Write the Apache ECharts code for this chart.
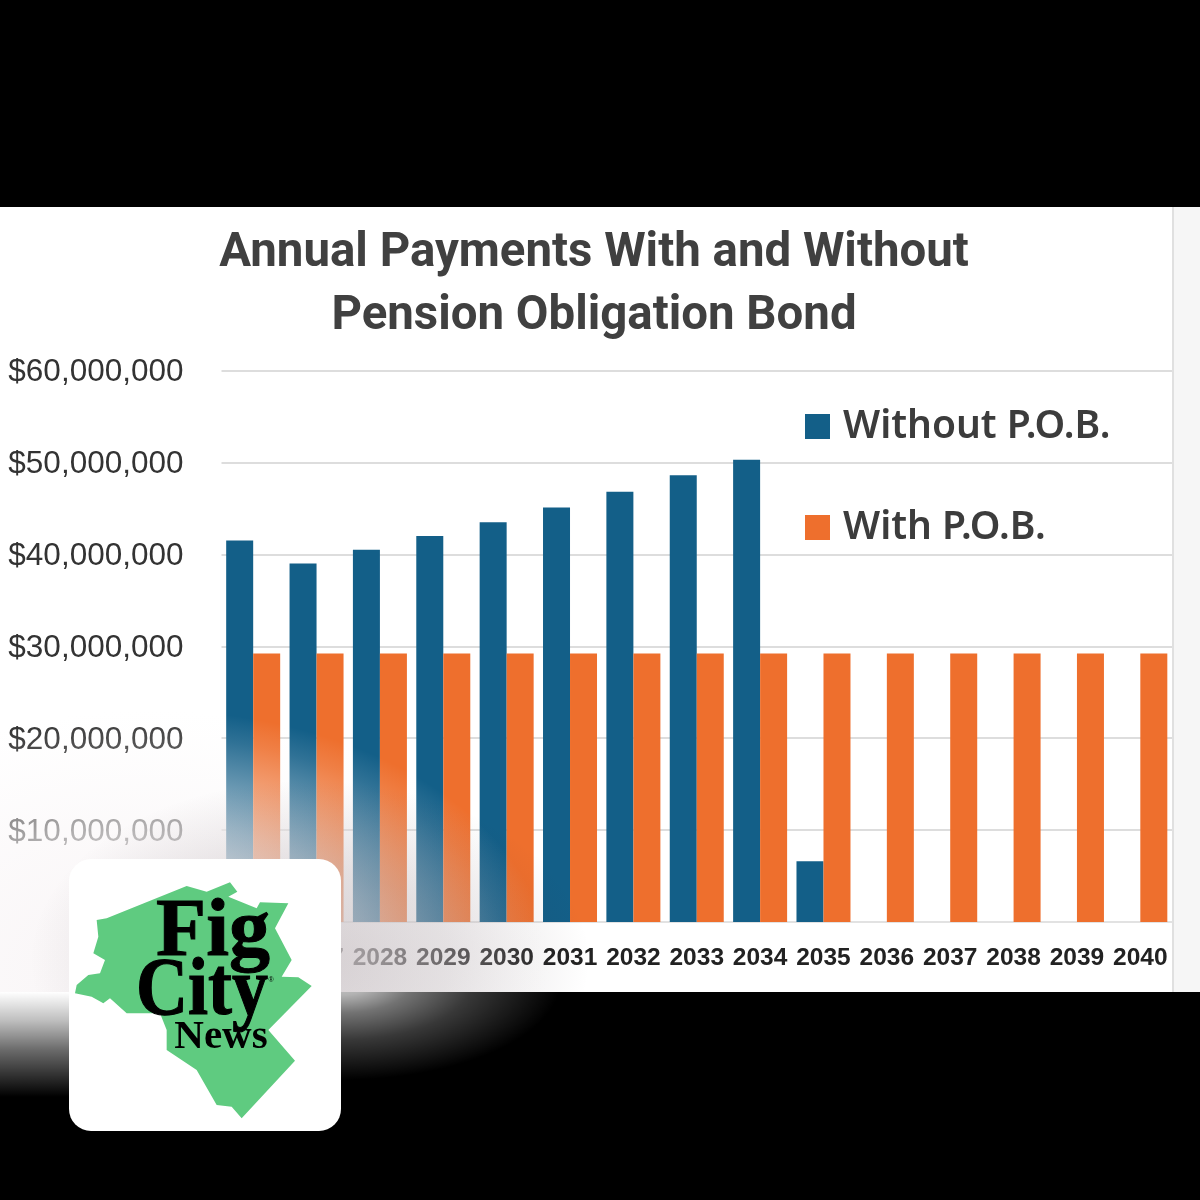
<!DOCTYPE html>
<html>
<head>
<meta charset="utf-8">
<style>html,body{margin:0;padding:0;background:#000}#c{width:1200px;height:1200px}</style>
<script src="https://cdn.jsdelivr.net/npm/echarts@6/dist/echarts.min.js"></script>
</head>
<body>
<div id="c"></div>
<script>
const titleText = 'Annual Payments With and Without\nPension Obligation Bond';
const years = ['2026','2027','2028','2029','2030','2031','2032','2033','2034','2035','2036','2037','2038','2039','2040'];
const withoutPOB = [41500000,39000000,40500000,42000000,43500000,45100000,46800000,48600000,50300000,6600000,null,null,null,null,null];
const withPOB = [29200000,29200000,29200000,29200000,29200000,29200000,29200000,29200000,29200000,29200000,29200000,29200000,29200000,29200000,29200000];
const seriesNames = ['Without P.O.B.','With P.O.B.'];
const logoOutline = [[110,210],[140,205],[380,108],[440,125],[510,97],[532,125],[505,140],[590,175],[600,157],[685,160],[645,235],[695,330],[665,380],[715,382],[755,408],[625,540],[705,632],[545,805],[515,770],[470,765],[410,660],[320,600],[320,540],[300,490],[200,490],[150,445],[130,460],[95,440],[45,430],[50,405],[85,375],[120,370],[135,330],[100,310],[115,260]];

function fog(cx, cy, sx, sy, x0, y0, x1, y1, rgb, stops, z){
  return {type:'rect', z:z, silent:true, x:cx, y:cy, scaleX:sx, scaleY:sy,
    shape:{x:(x0-cx)/sx, y:(y0-cy)/sy, width:(x1-x0)/sx, height:(y1-y0)/sy},
    style:{fill:{type:'radial', x:0, y:0, r:100, global:true,
      colorStops:stops.map(s=>({offset:s[0], color:'rgba('+rgb+','+s[1]+')'}))}}};
}
const serif = '"Liberation Serif", serif';
const chart = echarts.init(document.getElementById('c'), null, {renderer:'canvas'});
chart.setOption({
  animation:false,
  backgroundColor:'#000000',
  title:{text:titleText, left:589, top:218, textAlign:'center',
    textStyle:{fontFamily:'Roboto', fontSize:47.4, fontWeight:700, color:'#404040', lineHeight:63}},
  legend:{orient:'vertical', left:800, top:402, itemWidth:25, itemHeight:25, itemGap:62, icon:'rect',
    textStyle:{fontFamily:'"Noto Sans"', fontSize:39, fontWeight:600, color:'#3c3c3c', padding:[0,0,0,8]},
    data:seriesNames},
  grid:{left:221.5, right:28, top:370.5, bottom:278},
  xAxis:{type:'category', data:years,
    axisLine:{lineStyle:{color:'#e2e2e2', width:2}}, axisTick:{show:false},
    axisLabel:{interval:0, margin:24, fontFamily:'"Liberation Sans"', fontSize:24.5, fontWeight:700, color:'#222222'}},
  yAxis:{type:'value', min:0, max:60000000, interval:10000000,
    axisLine:{show:false}, axisTick:{show:false},
    splitLine:{lineStyle:{color:'#dddddd', width:2}},
    axisLabel:{margin:38, fontFamily:'"Liberation Sans"', fontSize:31.5, color:'#333333',
      formatter:v=>'{a|$'+v.toLocaleString('en-US')+'}',
      rich:{a:{fontFamily:'"Liberation Sans"', fontSize:31.5, color:'#333333', padding:[4,0,0,0]}}}},
  series:[
    {name:seriesNames[0], type:'bar', data:withoutPOB, barWidth:27, barGap:0,
      itemStyle:{color:'#135f88'}},
    {name:seriesNames[1], type:'bar', data:withPOB, barWidth:27, barGap:0,
      itemStyle:{color:'#ee6f2d'}}
  ],
  graphic:{elements:[
    {type:'rect', z:-3, silent:true, shape:{x:0,y:207,width:1200,height:785}, style:{fill:'#ffffff'}},
    {type:'rect', z:-2, silent:true, shape:{x:1174,y:207,width:26,height:785}, style:{fill:'#f6f6f6'}},
    {type:'rect', z:-2, silent:true, shape:{x:1172,y:207,width:2,height:785}, style:{fill:'#e0e0e0'}},
    fog(150,970,4,2.6,0,207,700,992,'250,247,248',[[0,1],[0.3,0.97],[0.57,0.62],[0.9,0.12],[1,0]],50),
    fog(310,960,2.8,1.8,0,207,700,992,'60,40,50',[[0,0.2],[0.5,0.13],[1,0]],51),
    {type:'rect', z:50, silent:true, shape:{x:0,y:992,width:80,height:105},
      style:{fill:{type:'linear',x:0,y:0,x2:0,y2:1,colorStops:[
        {offset:0,color:'rgba(255,255,255,1)'},{offset:0.27,color:'rgba(255,255,255,0.75)'},{offset:0.55,color:'rgba(255,255,255,0.42)'},{offset:1,color:'rgba(255,255,255,0)'}]}}},
    fog(341,980,2.2,1,330,992,700,1200,'255,255,255',[[0,0.8],[0.15,0.7],[0.33,0.45],[0.6,0.22],[1,0]],50),
    {type:'rect', z:60, silent:true, shape:{x:69,y:859,width:272,height:272,r:22}, style:{fill:'#ffffff'}},
    {type:'polygon', z:61, silent:true, x:60, y:850, scaleX:1/3, scaleY:1/3,
      shape:{points:logoOutline}, style:{fill:'#5fcb80'}},
    {type:'text', z:62, silent:true, x:213, y:934, style:{text:'Fig', fontFamily:serif, fontWeight:700, fontSize:82, fill:'#000', stroke:'#000', lineWidth:1, align:'center', verticalAlign:'middle'}},
    {type:'text', z:62, silent:true, x:202, y:993, scaleY:1.15, style:{text:'City', fontFamily:serif, fontWeight:700, fontSize:72, fill:'#000', stroke:'#000', lineWidth:1, align:'center', verticalAlign:'middle'}},
    {type:'text', z:62, silent:true, x:221, y:1037, style:{text:'News', fontFamily:serif, fontWeight:700, fontSize:41, fill:'#000', align:'center', verticalAlign:'middle'}},
    {type:'text', z:62, silent:true, x:271, y:980, style:{text:'®', fontFamily:'"Liberation Sans"', fontSize:7, fill:'#000', align:'center', verticalAlign:'middle'}}
  ]}
});
</script>
</body>
</html>
